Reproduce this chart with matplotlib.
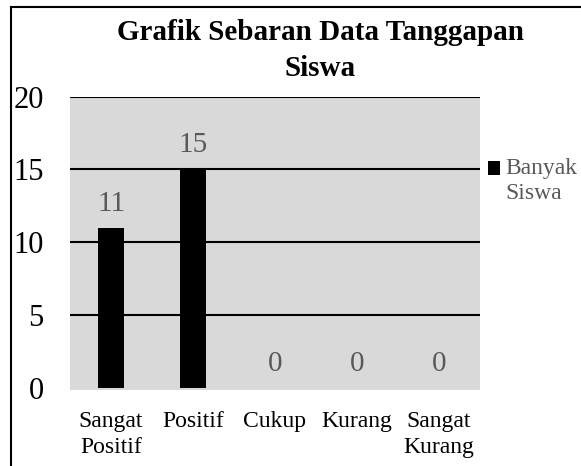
import numpy as np
import matplotlib
matplotlib.use('Agg')
import matplotlib.pyplot as plt
from matplotlib.lines import Line2D

plt.rcParams['font.family'] = ['Liberation Serif', 'DejaVu Serif']

#%% Data
kategori = ['Sangat\nPositif', 'Positif', 'Cukup', 'Kurang', 'Sangat\nKurang']
banyak_siswa = [11, 15, 0, 0, 0]
y_ticks = [0, 5, 10, 15, 20]
judul = 'Grafik Sebaran Data Tanggapan\nSiswa'
nama_seri = 'Banyak\nSiswa'

W, H = 581, 466
fig = plt.figure(figsize=(W / 100, H / 100), dpi=100)
ax = fig.add_axes([70 / W, 1 - 390 / H, 410 / W, (390 - 96.7) / H])
ax.set_facecolor('#d9d9d9')

x = np.arange(len(kategori))
bars = ax.bar(x, banyak_siswa, width=0.31, color='black', label=nama_seri, zorder=3)

# gridlines (no line at 0)
for yv in y_ticks[1:]:
    ax.axhline(yv, color='black', lw=1.5, zorder=2)

ax.set_xlim(-0.5, len(kategori) - 0.5)
ax.set_ylim(-0.16, 20)
ax.set_yticks(y_ticks)
ax.set_xticks(x)
ax.set_xticklabels(kategori, fontsize=17)
for lbl in ax.get_xticklabels():
    lbl.set_linespacing(1.35)
ax.tick_params(axis='y', length=0, pad=19, labelsize=22)
ax.tick_params(axis='x', length=0, pad=15)
for s in ax.spines.values():
    s.set_visible(False)

# data labels
for xi, v in zip(x, banyak_siswa):
    ax.annotate(str(v), (xi, v), xytext=(0, 8), textcoords='offset points',
                ha='center', va='bottom', fontsize=21, color='#595959')

# legend
leg = ax.legend(handles=[bars], loc='upper left', bbox_to_anchor=(488 / W, 1 - 158 / H),
                bbox_transform=fig.transFigure, frameon=False, fontsize=17,
                handlelength=0.5, handleheight=0.5, handletextpad=0.25,
                borderpad=0, borderaxespad=0, labelcolor='#595959')
for t in leg.get_texts():
    t.set_linespacing(1.25)
# put the square next to the first line, like the original
h = leg.legend_handles[0]
h.set_y(h.get_y() + 9)

# title
fig.text(320.5 / W, 1 - 19 / H, judul, ha='center', va='top', fontsize=21,
         fontweight='bold', linespacing=1.45)

# chart border (left and top edges visible)
fig.add_artist(Line2D([11 / W, 11 / W], [0, 1 - 7 / H], transform=fig.transFigure,
                      color='black', lw=1.5))
fig.add_artist(Line2D([11 / W, 1], [1 - 7 / H, 1 - 7 / H], transform=fig.transFigure,
                      color='black', lw=1.5))

fig.savefig('out.png', dpi=100)
